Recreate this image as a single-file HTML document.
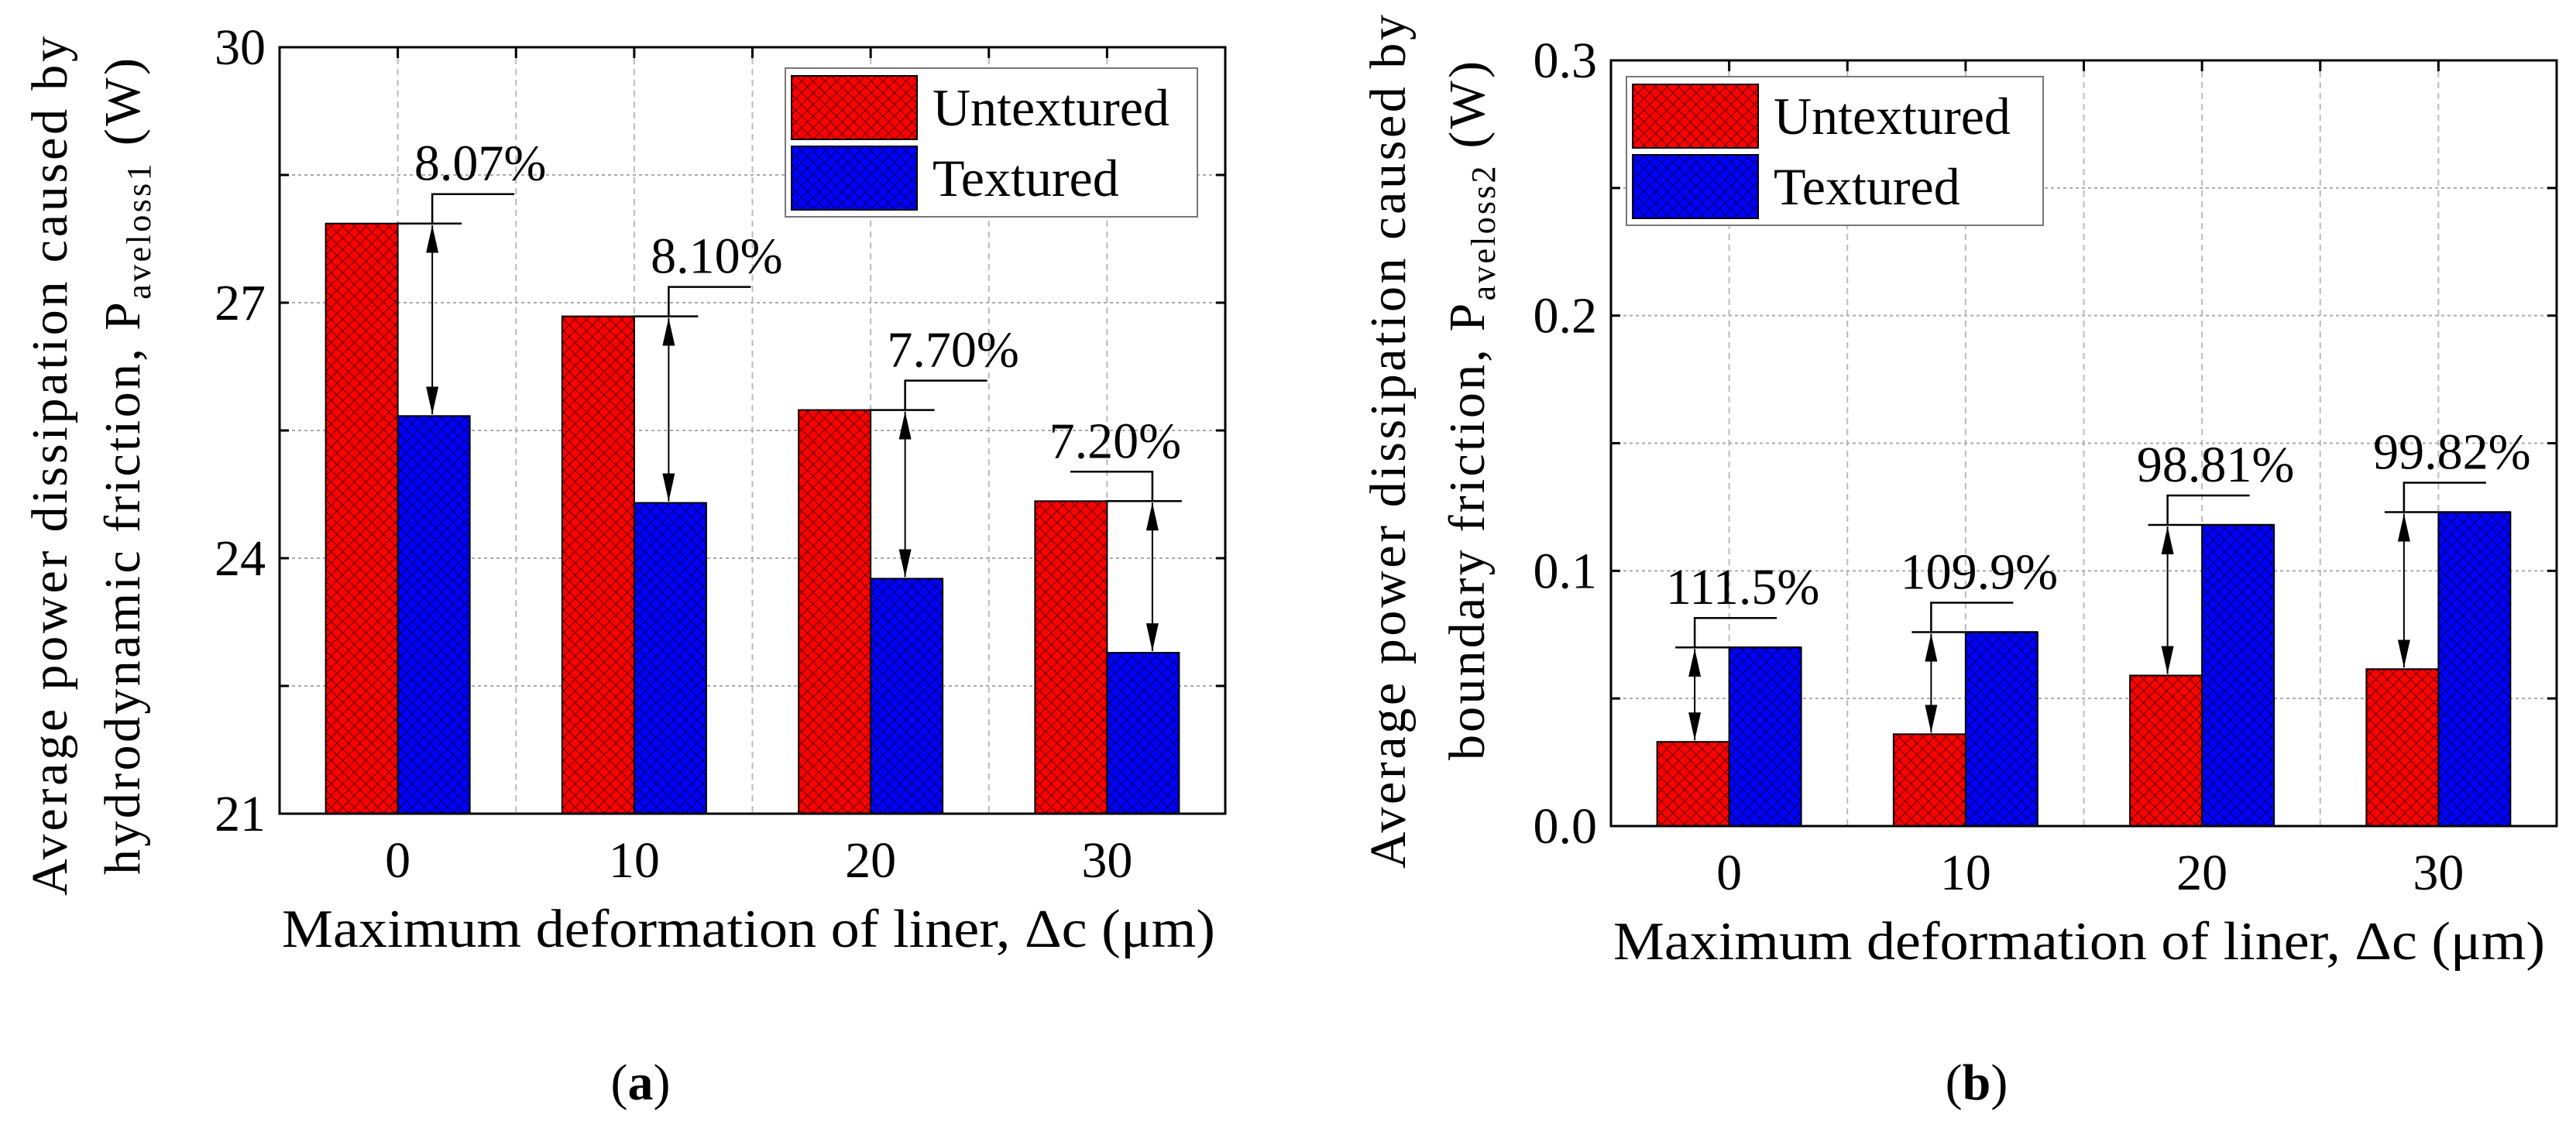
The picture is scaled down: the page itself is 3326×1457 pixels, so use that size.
<!DOCTYPE html>
<html><head><meta charset="utf-8"><style>
html,body{margin:0;padding:0;background:#fff;}
svg, svg text{font-family:"Liberation Serif","Times New Roman",Tinos,"Nimbus Roman",serif;}
</style></head><body>
<svg id="fig" width="3326" height="1452" viewBox="0 0 3326 1452" xmlns="http://www.w3.org/2000/svg">
<defs>
<pattern id="hatch" width="15" height="15" patternUnits="userSpaceOnUse">
<path d="M0,0 L15,15 M15,0 L0,15" stroke="#000" stroke-opacity="0.55" stroke-width="1.3" fill="none"/>
</pattern>
<marker id="ah" viewBox="0 0 10 10" refX="10" refY="5" markerWidth="36" markerHeight="16" markerUnits="userSpaceOnUse" orient="auto-start-reverse" preserveAspectRatio="none">
<path d="M0,0 L10,5 L0,10 z" fill="#000"/>
</marker>
</defs>
<g id="chartA"></g>
<g id="chartB"></g>
<text x="827" y="1420" font-size="66" text-anchor="middle" font-family="Liberation Serif, serif">(<tspan font-weight="bold">a</tspan>)</text>
<text x="2552" y="1420" font-size="66" text-anchor="middle" font-family="Liberation Serif, serif">(<tspan font-weight="bold">b</tspan>)</text>
</svg>
<script>
const categories = [0, 10, 20, 30];
const untexturedA = [27.93, 26.84, 25.74, 24.67];
const texturedA = [25.67, 24.65, 23.76, 22.89];
const labelsA = ["8.07%", "8.10%", "7.70%", "7.20%"];
const ticksA = [21, 24, 27, 30];
const tickLabelsA = ["21", "24", "27", "30"];
const untexturedB = [0.033, 0.036, 0.059, 0.0615];
const texturedB = [0.070, 0.076, 0.118, 0.123];
const labelsB = ["111.5%", "109.9%", "98.81%", "99.82%"];
const ticksB = [0.0, 0.1, 0.2, 0.3];
const tickLabelsB = ["0.0", "0.1", "0.2", "0.3"];

const NS = "http://www.w3.org/2000/svg";
const FF = "Liberation Serif, Times New Roman, serif";
function mk(parent, tag, attrs, text) {
  const e = document.createElementNS(NS, tag);
  for (const k in attrs) e.setAttribute(k, attrs[k]);
  if (tag === "text") e.setAttribute("font-family", FF);
  if (text !== undefined) e.textContent = text;
  parent.appendChild(e);
  return e;
}

function drawChart(g, cfg) {
  const L = cfg.left, T = cfg.top, W = 1221, H = cfg.bottom - cfg.top;
  const xs = v => L + (v + 5) / 40 * W;
  const ys = v => cfg.bottom - (v - cfg.ymin) / (cfg.ymax - cfg.ymin) * H;
  const bw = 93;
  for (let v = -5; v <= 35; v += 5) {
    if (v === -5 || v === 35) continue;
    const ln = mk(g, "line", {x1: xs(v), x2: xs(v), y1: T, y2: cfg.bottom, stroke: "#bbb", "stroke-width": 2, "stroke-dasharray": "8,6"});
    
    
    const tk = mk(g, "line", {x1: xs(v), x2: xs(v), y1: T, y2: T + 14, stroke: "#000", "stroke-width": 3});
    
    
  }
  const step = (cfg.ymax - cfg.ymin) / 6;
  for (let i = 1; i < 6; i++) {
    const v = cfg.ymin + i * step;
    const ln = mk(g, "line", {x1: L, x2: L + W, y1: ys(v), y2: ys(v), stroke: "#aaa", "stroke-width": 2, "stroke-dasharray": "4,4"});
    
    
    for (const x0 of [L, L + W - 12]) {
      const tk = mk(g, "line", {x1: x0, x2: x0 + 12, y1: ys(v), y2: ys(v), stroke: "#000", "stroke-width": 3});
      
      
    }
  }
  categories.forEach((c, i) => {
    const cx = xs(c);
    [[cfg.u[i], "#ff0000", cx - bw, "bar-untextured-" + c], [cfg.t[i], "#0000ff", cx, "bar-textured-" + c]].forEach(([v, col, x, nm]) => {
      const y = ys(v);
      const r = mk(g, "rect", {x: x, y: y, width: bw, height: cfg.bottom - y, fill: col, stroke: "#000", "stroke-width": 2});
      
      
      const h = mk(g, "rect", {x: x, y: y, width: bw, height: cfg.bottom - y, fill: "url(#hatch)"});
      
      
    });
    const hi = Math.max(cfg.u[i], cfg.t[i]), lo = Math.min(cfg.u[i], cfg.t[i]);
    const flip = cfg.flipLast && i === categories.length - 1;
    const ax = cfg.arrowOnBlue ? cx + bw / 2 + (flip ? 12 : -2) : cx - bw / 2 + 2;
    const yHi = ys(hi), yLo = ys(lo);
    const refX1 = cfg.arrowOnBlue ? cx - 2 : ax - 25;
    const refX2 = cfg.arrowOnBlue ? ax + 38 : cx + bw;
    const rl = mk(g, "line", {x1: refX1, x2: refX2, y1: yHi, y2: yHi, stroke: "#000", "stroke-width": 2.5});
    
    
    const ar = mk(g, "line", {x1: ax, x2: ax, y1: yHi + 2, y2: yLo - 2, stroke: "#000", "stroke-width": 2, "marker-start": "url(#ah)", "marker-end": "url(#ah)"});
    
    
    const topY = yHi - 38;
    const dx = flip ? -106 : 106;
    const cl = mk(g, "polyline", {points: `${ax},${yHi} ${ax},${topY} ${ax + dx},${topY}`, fill: "none", stroke: "#000", "stroke-width": 2.5});
    
    
    const lb = mk(g, "text", {x: flip ? ax - 48 : ax + 62, y: topY - 18, "font-size": 66, "text-anchor": "middle"}, cfg.labels[i]);
    
    
    const xl = mk(g, "text", {x: cx, y: cfg.bottom + 82, "font-size": 66, "text-anchor": "middle"}, String(c));
    
    
  });
  cfg.ticks.forEach((v, i) => {
    const tl = mk(g, "text", {x: L - 18, y: ys(v) + 22, "font-size": 66, "text-anchor": "end"}, cfg.tickLabels[i]);
    
    
  });
  const fr = mk(g, "rect", {x: L, y: T, width: W, height: H, fill: "none", stroke: "#000", "stroke-width": 3});
  
  
  const lg = mk(g, "g", {});
  
  
  const lgb = mk(lg, "rect", {x: cfg.lx, y: cfg.ly, width: cfg.lw, height: 192, fill: "#fff", stroke: "#777", "stroke-width": 2});
  
  
  [["#ff0000", "Untextured", 10], ["#0000ff", "Textured", 101]].forEach(([col, txt, dy]) => {
    const e = mk(lg, "g", {});
    
    
    mk(e, "rect", {x: cfg.lx + 8, y: cfg.ly + dy, width: 162, height: 82, fill: col, stroke: "#000", "stroke-width": 2});
    mk(e, "rect", {x: cfg.lx + 8, y: cfg.ly + dy, width: 162, height: 82, fill: "url(#hatch)"});
    mk(e, "text", {x: cfg.lx + 190, y: cfg.ly + dy + 64, "font-size": 68}, txt);
  });
  const xt = mk(g, "text", {x: L + 3, y: cfg.bottom + 172, "font-size": 70, textLength: cfg.xtLen, lengthAdjust: "spacingAndGlyphs"}, "Maximum deformation of liner, \u0394c (\u03bcm)");
  
  
  const y1 = mk(g, "text", {x: 0, y: 0, "font-size": 66, textLength: cfg.y1Len, lengthAdjust: "spacing", transform: `translate(${cfg.y1x},${cfg.y1b}) rotate(-90)`}, "Average power dissipation caused by");
  
  
  const y2 = mk(g, "text", {x: 0, y: 0, "font-size": 66, textLength: cfg.y2Len, lengthAdjust: "spacing", transform: `translate(${cfg.y2x},${cfg.y2b}) rotate(-90)`});
  
  
  mk(y2, "tspan", {}, cfg.y2text + " P");
  mk(y2, "tspan", {"font-size": 44, dy: 14}, cfg.sub);
  mk(y2, "tspan", {dy: -14}, " (W)");
}

drawChart(document.getElementById("chartA"), {
  left: 361, top: 61, bottom: 1051, ymin: 21, ymax: 30,
  u: untexturedA, t: texturedA, labels: labelsA, ticks: ticksA, tickLabels: tickLabelsA,
  arrowOnBlue: true, flipLast: true, lx: 1014, ly: 88, lw: 532, xtLen: 1205,
  y1x: 86, y1b: 1157, y1Len: 1110, y2x: 180, y2b: 1130, y2Len: 1055,
  y2text: "hydrodynamic friction,", sub: "aveloss1"
});
drawChart(document.getElementById("chartB"), {
  left: 2080, top: 78, bottom: 1067, ymin: 0, ymax: 0.3,
  u: untexturedB, t: texturedB, labels: labelsB, ticks: ticksB, tickLabels: tickLabelsB,
  arrowOnBlue: false, flipLast: false, lx: 2100, ly: 99, lw: 538, xtLen: 1203,
  y1x: 1814, y1b: 1122, y1Len: 1103, y2x: 1916, y2b: 982, y2Len: 903,
  y2text: "boundary friction,", sub: "aveloss2"
});
</script>
</body></html>
